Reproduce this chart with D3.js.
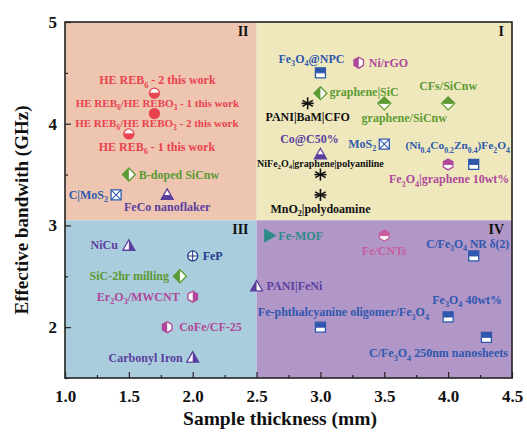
<!DOCTYPE html>
<html>
<head>
<meta charset="utf-8">
<script src="https://cdn.jsdelivr.net/npm/d3@7"></script>
<style>
  html, body { margin: 0; padding: 0; background: #fff; }
  svg { display: block; }
  text { font-family: "Liberation Serif", "Times New Roman", serif; font-weight: bold; }
</style>
</head>
<body>
<svg id="chart" width="527" height="441"></svg>
<script>
// ---- data -------------------------------------------------------------
// Absorber names ({...} marks a subscript)
const names = [
  "HE REB{6} - 2 this work",
  "HE REB{6}/HE REBO{3} - 1 this work",
  "HE REB{6}/HE REBO{3} - 2 this work",
  "B-doped SiCnw",
  "C|MoS{2}",
  "FeCo nanoflaker",
  "Fe{3}O{4}@NPC",
  "Ni/rGO",
  "graphene|SiC",
  "PANI|BaM|CFO",
  "graphene/SiCnw",
  "CFs/SiCnw",
  "Co@C50%",
  "MoS{2}",
  "NiFe{2}O{4}|graphene|polyaniline",
  "MnO{2}|polydoamine",
  "(Ni{0.4}Co{0.2}Zn{0.4})Fe{2}O{4}",
  "Fe{3}O{4}|graphene 10wt%",
  "NiCu",
  "FeP",
  "SiC-2hr milling",
  "Er{2}O{3}/MWCNT",
  "CoFe/CF-25",
  "Carbonyl Iron",
  "Fe-MOF",
  "Fe/CNTs",
  "PANI|FeNi",
  "C/Fe{3}O{4} NR δ(2)",
  "Fe{3}O{4} 40wt%",
  "Fe-phthalcyanine oligomer/Fe{3}O{4}",
  "C/Fe{3}O{4} 250nm nanosheets"
];
// Sample thickness (mm)
const thickness = [1.7, 1.7, 1.5, 1.5, 1.4, 1.8, 3.0, 3.3, 3.0, 2.9, 3.5, 4.0, 3.0, 3.5, 3.0, 3.0, 4.2, 4.0,
                   1.5, 2.0, 1.9, 2.0, 1.8, 2.0, 2.6, 3.5, 2.5, 4.2, 4.0, 3.0, 4.3];
// Effective bandwidth (GHz)
const bandwidth = [4.3, 4.1, 3.9, 3.5, 3.3, 3.3, 4.5, 4.6, 4.3, 4.2, 4.2, 4.2, 3.7, 3.8, 3.5, 3.3, 3.6, 3.6,
                   2.8, 2.7, 2.5, 2.3, 2.0, 1.7, 2.9, 2.9, 2.4, 2.7, 2.1, 2.0, 1.9];
// Material family (sets colour of marker and label)
const family = ["he", "he", "he", "sic", "mos", "magnetic", "ferrite", "carbon", "sic", "black", "sic", "sic",
                "magnetic", "mos", "black", "black", "ferrite", "carbon",
                "magnetic", "fep", "sic", "carbon", "carbon", "magnetic", "mof", "cnt", "magnetic",
                "ferrite", "ferrite", "ferrite", "ferrite"];
// Marker symbol and which half of it is filled
const symbol = ["circle", "circle", "circle", "diamond", "boxX", "triangle", "square", "hexagon", "diamond",
                "asterisk", "diamond", "diamond", "triangle", "boxX", "asterisk", "asterisk", "square", "hexagon",
                "triangle", "circlePlus", "diamond", "hexagon", "hexagon", "triangle", "triRight", "hexagon",
                "triangle", "square", "square", "square", "square"];
const half = ["bottom", "full", "bottom", "left", "none", "bottom", "top", "left", "left", "full", "top", "top",
              "bottom", "none", "full", "full", "top", "top",
              "right", "none", "left", "right", "left", "right", "full", "top", "left",
              "top", "top", "top", "top"];
// Extra caption with no marker of its own
const extraNames = ["HE REB{6} - 1 this work"];
const extraThickness = [1.5];
const extraBandwidth = [3.9];
const extraFamily = ["he"];

// Axis ticks
const xTickValues = [1.0, 1.5, 2.0, 2.5, 3.0, 3.5, 4.0, 4.5];
const yTickValues = [2, 3, 4, 5];
// Region boundaries and labels
const splitThickness = 2.5;
const splitBandwidth = 3.05;
const quadrantNames = ["I", "II", "III", "IV"];

// ---- styling ----------------------------------------------------------
const palette = {
  he: "#e8434f", sic: "#5c9a33", mos: "#2f5cae", magnetic: "#5b3f9e", ferrite: "#2f58ad",
  carbon: "#b0489a", black: "#111111", fep: "#203b8a", mof: "#2e8b88", cnt: "#c65f9c"
};
const quadFill = { I: "#efe8bd", II: "#eec5b1", III: "#a9cddd", IV: "#b196c8" };

// Caption placement relative to its marker: [dx, dy, anchor, fontSize]
const labelPlace = {
  "HE REB{6} - 2 this work": [3, -9, "middle", 12],
  "HE REB{6}/HE REBO{3} - 1 this work": [3, -7, "middle", 11],
  "HE REB{6}/HE REBO{3} - 2 this work": [28, -7, "middle", 11],
  "HE REB{6} - 1 this work": [28, 17, "middle", 12],
  "B-doped SiCnw": [10, 4, "start", 12],
  "C|MoS{2}": [-8, 4, "end", 12],
  "FeCo nanoflaker": [0, 16, "middle", 12],
  "Fe{3}O{4}@NPC": [-9, -10, "middle", 12],
  "Ni/rGO": [10, 4, "start", 12],
  "graphene|SiC": [9, 3, "start", 12],
  "PANI|BaM|CFO": [0, 18, "middle", 12],
  "graphene/SiCnw": [20, 19, "middle", 12],
  "CFs/SiCnw": [0, -13, "middle", 12],
  "Co@C50%": [-11, -11, "middle", 12],
  "MoS{2}": [-8, 4, "end", 12],
  "NiFe{2}O{4}|graphene|polyaniline": [0, -8, "middle", 10],
  "MnO{2}|polydoamine": [0, 18, "middle", 12],
  "(Ni{0.4}Co{0.2}Zn{0.4})Fe{2}O{4}": [-16, -15, "middle", 11.4],
  "Fe{3}O{4}|graphene 10wt%": [1, 19, "middle", 12],
  "NiCu": [-11, 3, "end", 12],
  "FeP": [10, 4, "start", 12],
  "SiC-2hr milling": [-11, 4, "end", 12],
  "Er{2}O{3}/MWCNT": [-13, 4, "end", 12],
  "CoFe/CF-25": [12, 4, "start", 12],
  "Carbonyl Iron": [-10, 4, "end", 12],
  "Fe-MOF": [9, 4, "start", 12],
  "Fe/CNTs": [0, 19, "middle", 12],
  "PANI|FeNi": [10, 4, "start", 12],
  "C/Fe{3}O{4} NR δ(2)": [-6, -8, "middle", 11.6],
  "Fe{3}O{4} 40wt%": [19, -13, "middle", 12],
  "Fe-phthalcyanine oligomer/Fe{3}O{4}": [23, -11, "middle", 12],
  "C/Fe{3}O{4} 250nm nanosheets": [-48, 20, "middle", 12]
};

// ---- layout -----------------------------------------------------------
const svg = d3.select("#chart");
const margin = { left: 65, right: 15, top: 22, bottom: 63 };
const W = 527, H = 441;

const x = d3.scaleLinear().domain([1.0, 4.5]).range([margin.left, W - margin.right]);
const y = d3.scaleLinear().domain([1.5, 5]).range([H - margin.bottom, margin.top]);

// Quadrant backgrounds
const [x0, x1] = x.domain(), [y0, y1] = y.domain();
const quads = [
  { id: "I", xa: splitThickness, xb: x1, ya: splitBandwidth, yb: y1 },
  { id: "II", xa: x0, xb: splitThickness, ya: splitBandwidth, yb: y1 },
  { id: "III", xa: x0, xb: splitThickness, ya: y0, yb: splitBandwidth },
  { id: "IV", xa: splitThickness, xb: x1, ya: y0, yb: splitBandwidth }
];
svg.append("g").selectAll("rect").data(quads).join("rect")
  .attr("x", d => x(d.xa)).attr("y", d => y(d.yb))
  .attr("width", d => x(d.xb) - x(d.xa)).attr("height", d => y(d.ya) - y(d.yb))
  .attr("fill", d => quadFill[d.id]);

svg.append("g").selectAll("text").data(quads).join("text")
  .attr("x", d => x(d.xb) - 8).attr("y", d => y(d.yb) + 13.5)
  .attr("text-anchor", "end").attr("font-size", 14).attr("fill", "#111")
  .text(d => quadrantNames[quadrantNames.indexOf(d.id)]);

// Axes (ticks point inward, labels only on the major ones)
const isMajorX = v => xTickValues.some(t => Math.abs(t - v) < 1e-6);
const isMajorY = v => yTickValues.some(t => Math.abs(t - v) < 1e-6);

const xAxis = d3.axisBottom(x).tickValues(d3.range(1.0, 4.51, 0.25))
  .tickSize(-5).tickPadding(12).tickFormat(d3.format(".1f"));
const gx = svg.append("g").attr("transform", `translate(0,${y(y0)})`).call(xAxis);
gx.selectAll(".tick line").attr("y2", v => isMajorX(v) ? -6 : -3);
gx.selectAll(".tick text").filter(v => !isMajorX(v)).remove();

const yAxis = d3.axisLeft(y).tickValues(d3.range(1.5, 5.01, 0.5))
  .tickSize(-6).tickPadding(8).tickFormat(d3.format("d"));
const gy = svg.append("g").attr("transform", `translate(${x(x0)},0)`).call(yAxis);
gy.selectAll(".tick line").attr("x2", v => isMajorY(v) ? 6 : 3);
gy.selectAll(".tick text").filter(v => !isMajorY(v)).remove();

[gx, gy].forEach(g => {
  g.select(".domain").remove();
  g.selectAll(".tick line").attr("stroke", "#222").attr("stroke-width", 1.2);
  g.selectAll(".tick text").attr("font-family", "Liberation Serif, serif")
    .attr("font-weight", "bold").attr("font-size", 17).attr("fill", "#111");
});

// Frame
svg.append("rect")
  .attr("x", x(x0)).attr("y", y(y1))
  .attr("width", x(x1) - x(x0)).attr("height", y(y0) - y(y1))
  .attr("fill", "none").attr("stroke", "#222").attr("stroke-width", 1.6);

// Axis titles
svg.append("text").attr("x", 280).attr("y", 425).attr("text-anchor", "middle")
  .attr("font-size", 19.5).attr("fill", "#111").text("Sample thickness (mm)");
svg.append("text").attr("transform", "translate(28,210) rotate(-90)").attr("text-anchor", "middle")
  .attr("font-size", 19).attr("fill", "#111").text("Effective bandwith (GHz)");

// ---- markers ----------------------------------------------------------
const defs = svg.append("defs");
const halfClip = {
  top: [-10, -10, 20, 10], bottom: [-10, 0, 20, 10],
  left: [-10, -10, 10, 20], right: [0, -10, 10, 20]
};
Object.entries(halfClip).forEach(([k, r]) => {
  defs.append("clipPath").attr("id", "half-" + k)
    .append("rect").attr("x", r[0]).attr("y", r[1]).attr("width", r[2]).attr("height", r[3]);
});

function shapePath(kind) {
  const p = d3.path();
  if (kind === "square" || kind === "boxX") { p.rect(-5, -5, 10, 10); }
  else if (kind === "circle" || kind === "circlePlus") { p.arc(0, 0, 5, 0, 2 * Math.PI); }
  else if (kind === "diamond") { p.moveTo(0, -6.5); p.lineTo(6.5, 0); p.lineTo(0, 6.5); p.lineTo(-6.5, 0); p.closePath(); }
  else if (kind === "triangle") { p.moveTo(0, -6); p.lineTo(6, 4.5); p.lineTo(-6, 4.5); p.closePath(); }
  else if (kind === "triRight") { p.moveTo(-4.5, -6); p.lineTo(6, 0); p.lineTo(-4.5, 6); p.closePath(); }
  else if (kind === "hexagon") {
    for (let k = 0; k < 6; k++) {
      const a = Math.PI / 6 + k * Math.PI / 3;
      const px = 5.5 * Math.cos(a), py = 5.5 * Math.sin(a);
      k ? p.lineTo(px, py) : p.moveTo(px, py);
    }
    p.closePath();
  }
  return p.toString();
}

const points = names.map((n, i) => ({
  name: n, t: thickness[i], b: bandwidth[i], fam: family[i], sym: symbol[i], half: half[i]
}));

const mk = svg.append("g").selectAll("g").data(points).join("g")
  .attr("transform", d => `translate(${x(d.t)},${y(d.b)})`);

mk.each(function (d) {
  const g = d3.select(this);
  const c = palette[d.fam];
  if (d.sym === "asterisk") {
    [0, 60, 120].forEach(a => {
      g.append("line").attr("x1", 0).attr("y1", -6).attr("x2", 0).attr("y2", 6)
        .attr("transform", `rotate(${a})`).attr("stroke", c).attr("stroke-width", 1.6);
    });
    g.append("line").attr("x1", -6).attr("x2", 6).attr("y1", 0).attr("y2", 0)
      .attr("stroke", c).attr("stroke-width", 1.6);
    return;
  }
  const path = shapePath(d.sym);
  g.append("path").attr("d", path).attr("fill", d.half === "full" ? c : "#fff");
  if (d.half !== "full" && d.half !== "none") {
    g.append("path").attr("d", path).attr("fill", c).attr("clip-path", `url(#half-${d.half})`);
  }
  g.append("path").attr("d", path).attr("fill", "none").attr("stroke", c).attr("stroke-width", 1.3);
  if (d.sym === "boxX") {
    g.append("path").attr("d", "M-5,-5L5,5M5,-5L-5,5").attr("stroke", c).attr("stroke-width", 1.1);
  }
  if (d.sym === "circlePlus") {
    g.append("path").attr("d", "M0,-5V5M-5,0H5").attr("stroke", c).attr("stroke-width", 1.1);
  }
  if (["square", "circle", "hexagon", "diamond"].includes(d.sym) && (d.half === "top" || d.half === "bottom")) {
    g.append("line").attr("x1", -5).attr("x2", 5).attr("stroke", c).attr("stroke-width", 1);
  }
});

// ---- captions ---------------------------------------------------------
// Split on {...}; subscript runs are lowered and shrunk, the next run restores the baseline.
function richText(sel, label, size) {
  const parts = label.split(/(\{[^}]*\})/).filter(s => s.length);
  const drop = size * 0.28;
  let lowered = false;
  parts.forEach(s => {
    const ts = sel.append("tspan");
    if (s.startsWith("{")) {
      ts.attr("font-size", size * 0.68).attr("dy", lowered ? 0 : drop).text(s.slice(1, -1));
      lowered = true;
    } else {
      ts.attr("font-size", size).attr("dy", lowered ? -drop : 0).text(s);
      lowered = false;
    }
  });
}

const captions = points.map(p => ({ name: p.name, t: p.t, b: p.b, fam: p.fam }))
  .concat(extraNames.map((n, i) => ({ name: n, t: extraThickness[i], b: extraBandwidth[i], fam: extraFamily[i] })));

svg.append("g").selectAll("text").data(captions).join("text")
  .each(function (d) {
    const [dx, dy, anchor, fs] = labelPlace[d.name];
    const t = d3.select(this)
      .attr("x", x(d.t) + dx).attr("y", y(d.b) + dy)
      .attr("text-anchor", anchor).attr("font-size", fs)
      .attr("fill", palette[d.fam]);
    richText(t, d.name, fs);
  });
</script>
</body>
</html>
